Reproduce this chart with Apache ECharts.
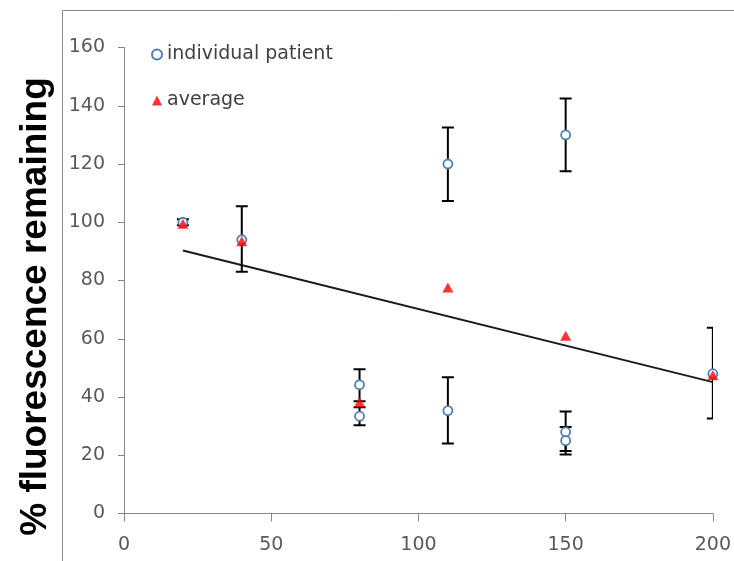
<!DOCTYPE html>
<html>
<head>
<meta charset="utf-8">
<script src="https://cdn.jsdelivr.net/npm/echarts@6/dist/echarts.min.js"></script>
<style>html,body{margin:0;padding:0;background:#fff}#c{width:734px;height:561px}</style>
</head>
<body>
<div id="c"></div>
<script>
// individual patient points [x, y]
var individualX = [20, 40, 80, 80, 110, 110, 150, 150, 150, 200];
var individualY = [100, 94, 44.2, 33.4, 120, 35.3, 130, 28, 25, 48];
// error bars for individual points [low, high]
var errLow  = [99, 83, 38.5, 30.3, 107.3, 24, 117.5, 21.5, 20.3, 32.6];
var errHigh = [101, 105.5, 49.5, 36.5, 132.5, 46.8, 142.5, 35, 29.7, 63.8];
// averages
var averageX = [20, 40, 80, 110, 150, 200];
var averageY = [99.5, 93.5, 38.2, 77.6, 61, 47.5];
// linear trendline endpoints
var trendX = [20, 200];
var trendY = [90.3, 45.1];
// axis ticks
var xTicks = [0, 50, 100, 150, 200];
var yTicks = [0, 20, 40, 60, 80, 100, 120, 140, 160];

var indData = individualX.map(function (x, i) { return [x, individualY[i]]; });
var errData = individualX.map(function (x, i) { return [x, errLow[i], errHigh[i]]; });
var avgData = averageX.map(function (x, i) { return [x, averageY[i]]; });
var trendData = trendX.map(function (x, i) { return [x, trendY[i]]; });

var chart = echarts.init(document.getElementById('c'), null, {renderer: 'canvas'});
var axisGray = '#868686';
var labelStyle = {color: '#595959', fontSize: 19, fontFamily: 'DejaVu Sans'};

chart.setOption({
  animation: false,
  graphic: [{
    type: 'rect', silent: true,
    shape: {x: 62.5, y: 10.5, width: 800, height: 700},
    style: {fill: 'none', stroke: '#8a8a8a', lineWidth: 1}
  }],
  grid: {left: 124, right: 20, top: 47.5, bottom: 47.5},
  legend: {
    orient: 'vertical', left: 146, top: 40, itemGap: 27,
    itemWidth: 10, itemHeight: 10, itemStyle: {},
    textStyle: {color: '#404040', fontSize: 19, fontFamily: 'DejaVu Sans'},
    data: [{name: 'individual patient', icon: 'circle'}, {name: 'average', icon: 'triangle'}]
  },
  xAxis: {
    type: 'value', min: xTicks[0], max: xTicks[xTicks.length - 1], interval: 50,
    splitLine: {show: false},
    axisLine: {onZero: false, lineStyle: {color: axisGray, width: 1}},
    axisTick: {show: true, inside: false, length: 8, lineStyle: {color: axisGray}},
    axisLabel: Object.assign({margin: 22}, labelStyle)
  },
  yAxis: {
    type: 'value', min: yTicks[0], max: yTicks[yTicks.length - 1], interval: 20,
    splitLine: {show: false},
    axisLine: {show: true, lineStyle: {color: axisGray, width: 1}},
    axisTick: {show: true, inside: false, length: 6, lineStyle: {color: axisGray}},
    axisLabel: Object.assign({margin: 19}, labelStyle),
    name: '% fluorescence remaining', nameLocation: 'middle', nameGap: 70,
    nameTextStyle: {fontFamily: 'Liberation Sans', fontWeight: 'bold', fontSize: 37, color: '#000', padding: [0, 52, 0, 0]}
  },
  series: [
    {
      name: 'trend', type: 'line', data: trendData, showSymbol: false, symbol: 'none',
      lineStyle: {color: '#1a1a1a', width: 2}, z: 2, silent: true
    },
    {
      name: 'error', type: 'custom', data: errData, clip: true, z: 3, silent: true,
      renderItem: function (params, api) {
        var x = api.value(0);
        var lo = api.coord([x, api.value(1)]);
        var hi = api.coord([x, api.value(2)]);
        var hw = 6;
        var st = {stroke: '#000', lineWidth: 2};
        return {
          type: 'group',
          children: [
            {type: 'line', shape: {x1: lo[0], y1: lo[1], x2: hi[0], y2: hi[1]}, style: st},
            {type: 'line', shape: {x1: lo[0] - hw, y1: lo[1], x2: lo[0] + hw, y2: lo[1]}, style: st},
            {type: 'line', shape: {x1: hi[0] - hw, y1: hi[1], x2: hi[0] + hw, y2: hi[1]}, style: st}
          ]
        };
      }
    },
    {
      name: 'individual patient', type: 'scatter', data: indData, symbol: 'circle', symbolSize: 9,
      itemStyle: {color: '#ffffff', borderColor: '#4a7ebb', borderWidth: 1.8, opacity: 1}, z: 4
    },
    {
      name: 'average', type: 'scatter', data: avgData, symbol: 'triangle', symbolSize: [11, 10],
      itemStyle: {color: '#ff0000'}, z: 5
    }
  ]
});
</script>
</body>
</html>
